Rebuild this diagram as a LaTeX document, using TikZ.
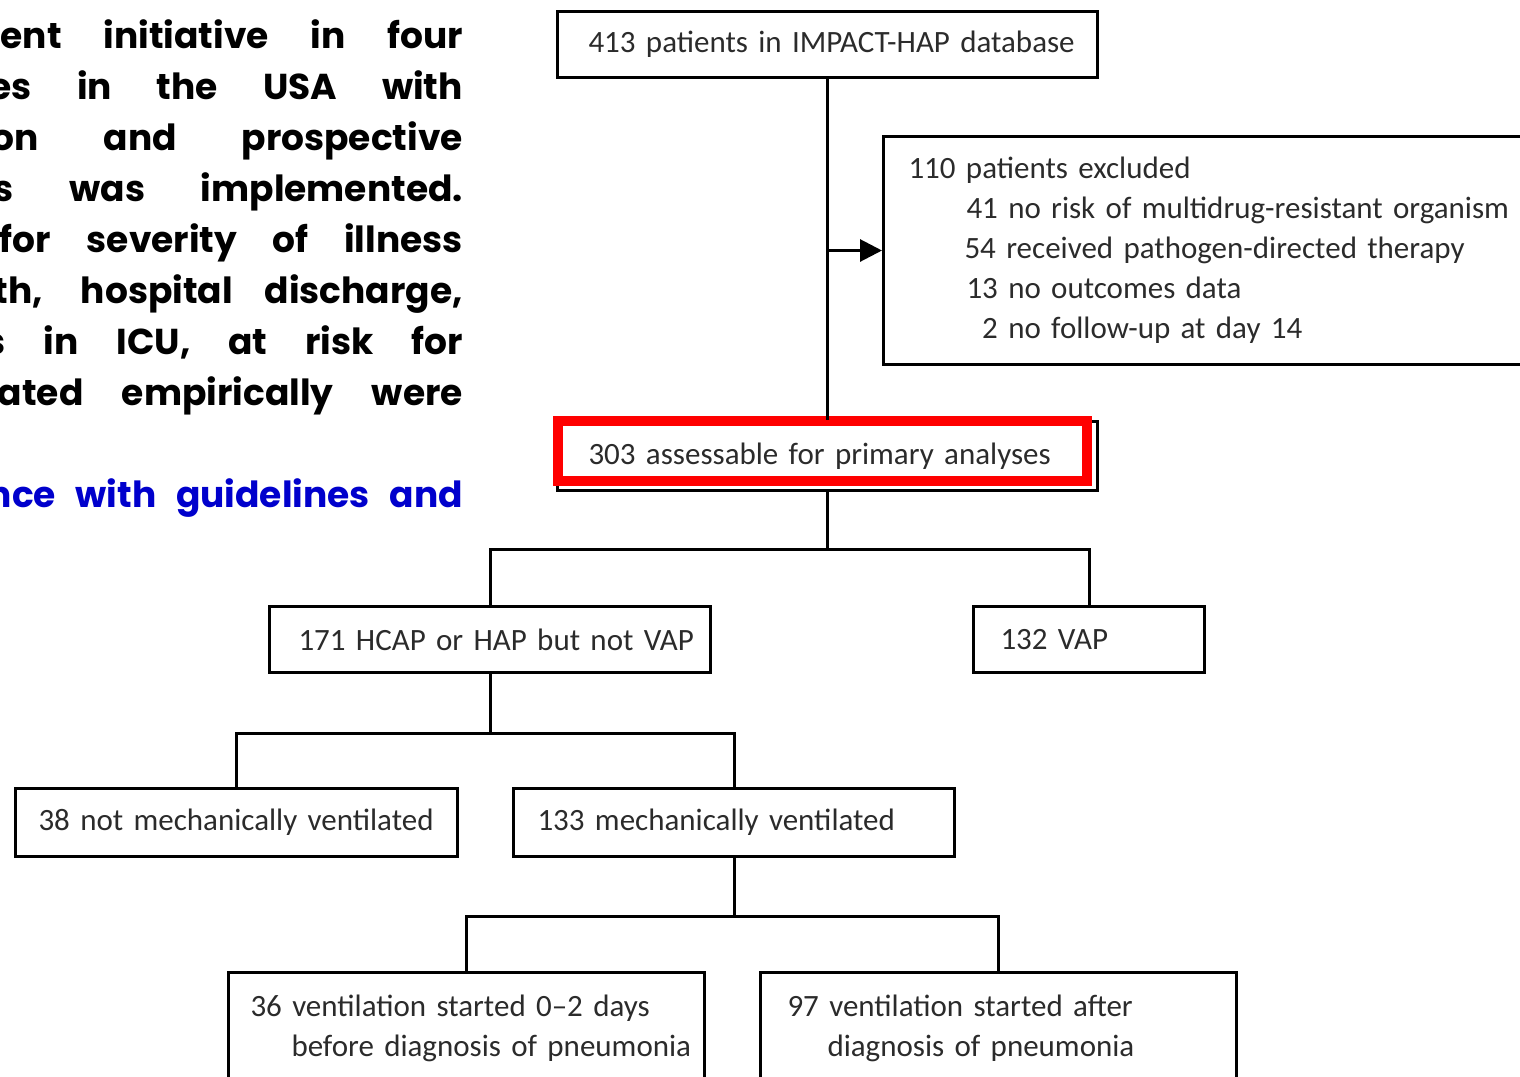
\documentclass[tikz,border=0pt]{standalone}
\usepackage{fontspec}
\usepackage{xcolor}
\usetikzlibrary{arrows.meta,positioning}
\setmainfont{Carlito}
\newfontfamily\notefont{Poppins}
\definecolor{FlowRed}{HTML}{FF0000}
\definecolor{FlowBlue}{HTML}{0000CC}
\definecolor{FlowText}{HTML}{2B2B2B}
\newcommand\flowfont{\fontsize{31}{40}\selectfont\spaceskip=4.6pt plus 2pt minus 1pt\relax}

\tikzset{
  flowbox/.style={draw=black, line width=3pt, anchor=north west, align=left,
    inner ysep=0pt, text=FlowText, font=\flowfont},
  flowline/.style={line width=3pt, black},
  noteline/.style={anchor=base east, inner sep=0pt,
    font=\notefont\bfseries\fontsize{36}{51}\selectfont}
}

\begin{document}
\begin{tikzpicture}[x=1pt, y=-1pt]
  \useasboundingbox (0,0) rectangle (1520,1076);

  % cropped text on the left
  \node[noteline] (n1) at (463,48) {\makebox[462pt][s]{ent initiative in four}};
  \node[noteline] (n2) at (463,99) {\makebox[473pt][s]{es in the USA with}};
  \node[noteline] (n3) at (463,150) {\makebox[471pt][s]{on and prospective}};
  \node[noteline] (n4) at (463,201) {\makebox[469pt][s]{s was implemented.}};
  \node[noteline] (n5) at (463,252) {\makebox[463pt][s]{for severity of illness}};
  \node[noteline] (n6) at (463,303) {\makebox[469pt][s]{th, hospital discharge,}};
  \node[noteline] (n7) at (463,354) {\makebox[477pt][s]{s in ICU, at risk for}};
  \node[noteline] (n8) at (463,405) {\makebox[465pt][s]{ated empirically were}};
  \node[noteline, text=FlowBlue] (n9) at (463,507) {\makebox[475pt][s]{nce with guidelines and}};

  % flow chart
  \node[flowbox, minimum height=66pt, text width=478pt, inner xsep=31pt] (total) at (556,10)
    {\mbox{413 patients in IMPACT-HAP database}};
  \node[flowbox, minimum height=228pt, text width=610pt, inner xsep=25pt] (excl) at (882,135)
    {110 patients excluded\\
     \hspace*{58pt}\mbox{41 no risk of multidrug-resistant organism}\\
     \hspace*{56pt}\mbox{54 received pathogen-directed therapy}\\
     \hspace*{58pt}13 no outcomes data\\
     \hspace*{58pt}\phantom{1}2 no follow-up at day 14};
  \node[flowbox, minimum height=69pt, text width=478pt, inner xsep=31pt] (assess) at (556,420)
    {\mbox{303 assessable for primary analyses}};
  \draw[FlowRed, line width=10pt] (558,421) rectangle (1087,481);

  \node[flowbox, minimum height=66pt, text width=383pt, inner xsep=29pt] (hcap) at (268,605)
    {\mbox{171 HCAP or HAP but not VAP}};
  \node[flowbox, minimum height=66pt, text width=177pt, inner xsep=27pt] (vap) at (972,605)
    {\mbox{132 VAP}};
  \node[flowbox, minimum height=68pt, text width=396pt, inner xsep=23pt] (nomv) at (14,787)
    {\mbox{38 not mechanically ventilated}};
  \node[flowbox, minimum height=68pt, text width=393pt, inner xsep=24pt] (mv) at (512,787)
    {\mbox{133 mechanically ventilated}};
  \node[flowbox, minimum height=112pt, text width=432pt, inner xsep=22pt] (early) at (227,971)
    {\mbox{36 ventilation started 0--2 days}\\
     \hspace*{41pt}\mbox{before diagnosis of pneumonia}};
  \node[flowbox, minimum height=112pt, text width=422pt, inner xsep=27pt] (late) at (759,971)
    {\mbox{97 ventilation started after}\\
     \hspace*{40pt}\mbox{diagnosis of pneumonia}};

  % connectors
  \draw[flowline] (total.south) -- (assess.north);
  \draw[flowline, -{Triangle[length=22pt, width=22pt]}] (total.south |- excl.west) -- (excl.west);
  \draw[flowline] (assess.south) -- ++(0,57) coordinate (split1);
  \draw[flowline] (split1) -| (hcap.north);
  \draw[flowline] (split1) -| (vap.north);
  \draw[flowline] (hcap.south) -- ++(0,59) coordinate (split2);
  \draw[flowline] (split2) -| (nomv.north);
  \draw[flowline] (split2) -| (mv.north);
  \draw[flowline] (mv.south) -- ++(0,58) coordinate (split3);
  \draw[flowline] (split3) -| (early.north);
  \draw[flowline] (split3) -| (late.north);
\end{tikzpicture}
\end{document}
